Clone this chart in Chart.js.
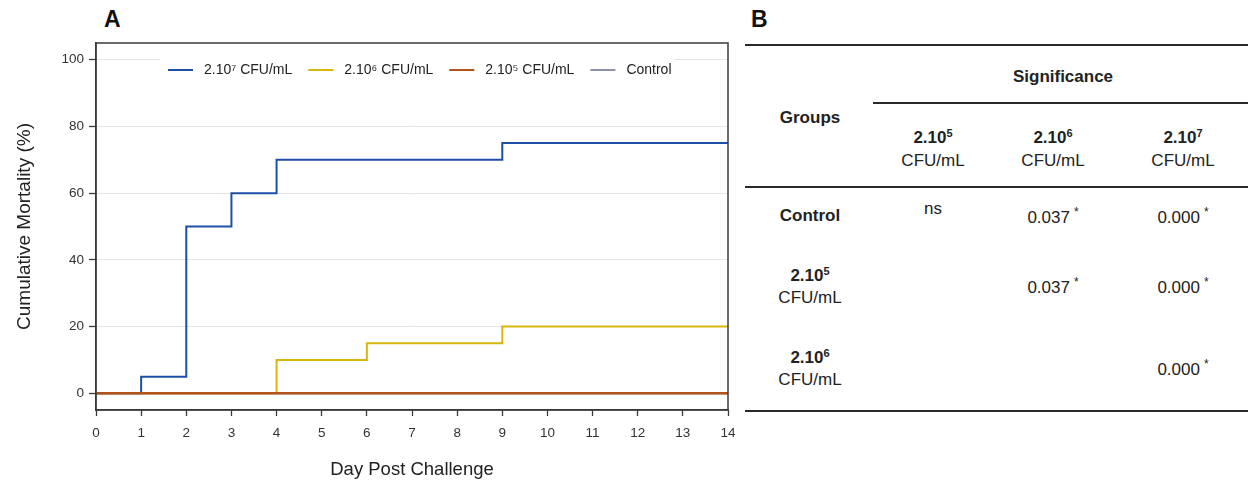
<!DOCTYPE html>
<html><head><meta charset="utf-8">
<script src="https://cdn.jsdelivr.net/npm/chart.js@4.4.0/dist/chart.umd.min.js"></script>
<style>
html,body{margin:0;padding:0;background:#fff;width:1248px;height:486px;overflow:hidden;font-family:"Liberation Sans",Arial,sans-serif;color:#222}
#wrap{position:absolute;left:0;top:0;width:745px;height:486px}
.pl{position:absolute;font-weight:bold;font-size:23px;color:#111;line-height:1}
.t{position:absolute;transform:translate(-50%,-50%);white-space:nowrap;text-align:center;line-height:1;font-size:17px;color:#222}
.b{font-weight:bold}
.hl{position:absolute;height:2px;background:#2a2a2a}
sup.s{font-size:11px;vertical-align:6px;line-height:0}
sup.a{font-size:12px;vertical-align:7px;line-height:0;margin-left:4px}
</style></head>
<body>
<div class="pl" style="left:104px;top:8px">A</div>
<div class="pl" style="left:751px;top:8px">B</div>
<div id="wrap"><canvas id="c"></canvas></div>
<div id="tbl"></div>
<script>
// ---- data ----
const dayTicks = [0,1,2,3,4,5,6,7,8,9,10,11,12,13,14];
const mortTicks = [0,20,40,60,80,100];
const seriesLabels = ['2.10\u2077 CFU/mL','2.10\u2076 CFU/mL','2.10\u2075 CFU/mL','Control'];
const days7 = [0,1,2,3,4,9,14];
const mort7 = [0,5,50,60,70,75,75];
const days6 = [0,4,6,9,14];
const mort6 = [0,10,15,20,20];
const days5 = [0,14];
const mort5 = [0,0];
const daysC = [0,14];
const mortC = [0,0];

const colHeads = [['2.10','5'],['2.10','6'],['2.10','7']];
const rowHeads = [['Control',''],['2.10','5'],['2.10','6']];
const pVals  = [['ns','0.037','0.000'],['','0.037','0.000'],['','','0.000']];
const pStars = [['','*','*'],['','*','*'],['','','*']];

// ---- chart ----
const colors = ['#1d4fa6','#d8b70c','#b3531c','#8e90ab'];
const widths = [2,2,2.6,2];
const orders = [2,1,0,3];
const dsData = [[days7,mort7],[days6,mort6],[days5,mort5],[daysC,mortC]];
const datasets = seriesLabels.map((lab,i)=>({
  label: lab,
  data: dsData[i][0].map((d,j)=>({x:d,y:dsData[i][1][j]})),
  borderColor: colors[i], backgroundColor: colors[i],
  borderWidth: widths[i], pointRadius: 0, pointHoverRadius: 0,
  stepped: true, fill: false, order: orders[i]
}));

const FONT = '"Liberation Sans", Arial, sans-serif';
function legendLayout(chart){
  const ctx = chart.ctx; const ca = chart.chartArea;
  ctx.save(); ctx.font = '14px ' + FONT;
  let x = ca.left + 72; const y = ca.top + 27;
  const items = [];
  seriesLabels.forEach((lab,i)=>{
    const w = ctx.measureText(lab).width;
    items.push({x, y, lab, i, w});
    x += 25 + 11 + w + 16;
  });
  ctx.restore();
  return {items, start: ca.left + 64, end: x - 16 + 3, y};
}
const boxPlugin = {
  id: 'boxPlugin',
  beforeDatasetsDraw(chart){
    const ctx = chart.ctx; const L = legendLayout(chart);
    ctx.save(); ctx.fillStyle = '#fff';
    ctx.fillRect(L.start, L.y - 16, L.end - L.start, 32);
    ctx.restore();
  },
  afterDatasetsDraw(chart){
    const ctx = chart.ctx; const L = legendLayout(chart);
    ctx.save();
    L.items.forEach(it=>{
      ctx.strokeStyle = colors[it.i]; ctx.lineWidth = 2;
      ctx.beginPath(); ctx.moveTo(it.x, it.y); ctx.lineTo(it.x + 25, it.y); ctx.stroke();
      ctx.fillStyle = '#222'; ctx.font = '14px ' + FONT; ctx.textBaseline = 'middle'; ctx.textAlign = 'left';
      ctx.fillText(it.lab, it.x + 36, it.y);
    });
    ctx.restore();
  },
  afterDraw(chart){
    const ctx = chart.ctx; const ca = chart.chartArea;
    ctx.save(); ctx.strokeStyle = '#3a3a3a'; ctx.lineWidth = 1.5;
    ctx.strokeRect(ca.left, ca.top, ca.right - ca.left, ca.bottom - ca.top);
    ctx.restore();
  }
};

new Chart(document.getElementById('c'), {
  type: 'line',
  data: { datasets },
  plugins: [boxPlugin],
  options: {
    responsive: true, maintainAspectRatio: false, animation: false,
    layout: { padding: { top: 43, right: 17, left: 0, bottom: 0 } },
    plugins: { legend: { display: false }, tooltip: { enabled: false } },
    scales: {
      x: {
        type: 'linear', min: 0, max: 14,
        afterBuildTicks: s => { s.ticks = dayTicks.map(v=>({value:v})); },
        afterFit: s => { s.height = 76; },
        ticks: { font: { size: 13.5, family: FONT }, color: '#333', padding: 9, maxRotation: 0, autoSkip: false },
        grid: { drawOnChartArea: false, tickLength: 6, tickColor: '#3a3a3a', tickWidth: 1.3 },
        border: { display: true, color: '#3a3a3a', width: 1.5 },
        title: { display: true, text: 'Day Post Challenge', font: { size: 18.5, family: FONT }, color: '#222', padding: { top: 0, bottom: 5 } }
      },
      y: {
        type: 'linear', min: -5, max: 105,
        afterBuildTicks: s => { s.ticks = mortTicks.map(v=>({value:v})); },
        afterFit: s => { s.width = 96; },
        ticks: { font: { size: 13.5, family: FONT }, color: '#333', padding: 5 },
        grid: { color: '#e4e4e4', lineWidth: 1, tickLength: 7, tickColor: '#3a3a3a', tickWidth: 1.3 },
        border: { display: true, color: '#3a3a3a', width: 1.5 },
        title: { display: true, text: 'Cumulative Mortality (%)', font: { size: 19, family: FONT }, color: '#222', padding: { top: 13, bottom: 0 } }
      }
    }
  }
});

// ---- table (panel B) ----
const tbl = document.getElementById('tbl');
function add(html, x, y, cls){
  const d = document.createElement('div'); d.className = 't ' + (cls||'');
  d.style.left = x + 'px'; d.style.top = y + 'px'; d.innerHTML = html; tbl.appendChild(d);
}
function line(x1, x2, y){
  const d = document.createElement('div'); d.className = 'hl';
  d.style.left = x1 + 'px'; d.style.width = (x2 - x1) + 'px'; d.style.top = (y - 1) + 'px'; tbl.appendChild(d);
}
const colX = [933, 1053, 1183], groupX = 810, rowY = [215, 285, 367];
line(745, 1248, 45);
line(873, 1248, 103);
line(745, 1248, 187);
line(745, 1248, 411);
add('Significance', 1063, 76, 'b');
add('Groups', groupX, 117, 'b');
colHeads.forEach((h,i)=>{
  add(h[0] + '<sup class="s">' + h[1] + '</sup>', colX[i], 137, 'b');
  add('CFU/mL', colX[i], 160, '');
});
rowHeads.forEach((h,r)=>{
  if (h[1] === '') add(h[0], groupX, rowY[r], 'b');
  else {
    add(h[0] + '<sup class="s">' + h[1] + '</sup>', groupX, rowY[r] - 10, 'b');
    add('CFU/mL', groupX, rowY[r] + 12, '');
  }
  pVals[r].forEach((v,c)=>{
    if (!v) return;
    if (pStars[r][c]) add(v + '<sup class="a">' + pStars[r][c] + '</sup>', colX[c], rowY[r] + 2, '');
    else add(v, colX[c], rowY[r] - 7, '');
  });
});
</script>
</body></html>
